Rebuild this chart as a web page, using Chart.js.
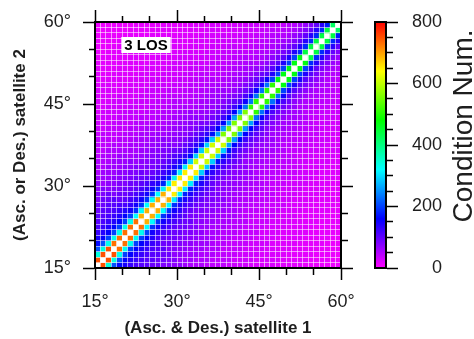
<!DOCTYPE html>
<html lang="en">
<head>
<meta charset="UTF-8" />
<title>Condition number - 3 LOS</title>
<script src="https://cdn.jsdelivr.net/npm/chart.js"></script>
<style>
  body { margin: 0; background: #fff; }
  #wrap { position: relative; width: 474px; height: 339px; }
  canvas { position: absolute; top: 0; }
  #gridChart { left: 0; }
  #barChart { left: 360px; }
</style>
</head>
<body>
<div id="wrap">
  <canvas id="gridChart" width="360" height="339"></canvas>
  <canvas id="barChart" width="114" height="339"></canvas>
</div>
<script>
// heading angle range of both satellites (degrees), 1 degree cells
const angleMin = 15;
const angleMax = 60;
const degreeLabels = [15, 30, 45, 60];
const degreeMinor = [15, 20, 25, 30, 35, 40, 45, 50, 55, 60];

// condition number colour scale
const condLabels = [0, 200, 400, 600, 800];
const condMax = 800;

// condition number off the diagonal: one row per angle difference |x - y|,
// one column per mean angle (x + y) / 2. The diagonal itself is singular (white).
const offsets = [1, 2, 3, 4, 5, 6, 7, 8, 10, 12, 14, 17, 20, 24, 28, 33, 38, 42];
const midAngles = [15, 20, 25, 30, 35, 40, 45, 50, 55, 60];
const condTable = [
  [750, 730, 690, 650, 610, 560, 510, 470, 440, 420],
  [340, 330, 320, 310, 290, 260, 230, 200, 185, 175],
  [210, 200, 190, 180, 170, 160, 150, 140, 135, 130],
  [165, 158, 148, 140, 130, 120, 112, 104, 98, 92],
  [145, 138, 128, 120, 110, 100, 92, 85, 79, 74],
  [132, 125, 114, 106, 96, 86, 78, 70, 64, 59],
  [122, 114, 103, 94, 84, 75, 67, 60, 54, 50],
  [115, 105, 92, 82, 72, 64, 57, 50, 46, 42],
  [100, 92, 80, 72, 64, 56, 49, 43, 38, 34],
  [88, 80, 70, 62, 55, 48, 42, 37, 33, 29],
  [76, 70, 61, 54, 48, 42, 37, 32, 28, 25],
  [62, 57, 50, 45, 40, 35, 31, 27, 24, 21],
  [50, 46, 41, 37, 33, 29, 26, 23, 20, 18],
  [40, 37, 33, 30, 26, 23, 21, 18, 16, 14],
  [32, 30, 27, 24, 21, 19, 17, 15, 13, 12],
  [25, 23, 21, 19, 17, 15, 13, 12, 10, 9],
  [19, 18, 16, 14, 13, 12, 10, 9, 8, 7],
  [14, 13, 12, 11, 10, 9, 8, 7, 6, 6]
];

// GMT style rainbow palette
const cptStops = [0, 160, 320, 480, 640, 800];
const cptColors = [[255, 0, 255], [0, 0, 255], [0, 255, 255], [0, 255, 0], [255, 255, 0], [255, 0, 0]];

function rgb(c) { return 'rgb(' + c.map(Math.round).join(',') + ')'; }

function colorFor(v) {
  if (v === null || v > condMax) return '#ffffff';
  for (let k = 1; k < cptStops.length; k++) {
    if (v <= cptStops[k]) {
      const t = (v - cptStops[k - 1]) / (cptStops[k] - cptStops[k - 1]);
      const a = cptColors[k - 1], b = cptColors[k];
      return rgb(a.map((ch, n) => ch + (b[n] - ch) * t));
    }
  }
  return rgb(cptColors[cptColors.length - 1]);
}

function condAt(x, y) {
  const d = Math.abs(x - y);
  if (d === 0) return null;
  let row = 0;
  offsets.forEach((o, k) => { if (o <= d) row = k; });
  const mid = (x + y) / 2;
  let col = 0;
  midAngles.forEach((m, k) => { if (Math.abs(m - mid) < Math.abs(midAngles[col] - mid)) col = k; });
  return condTable[row][col];
}

const cells = [];
for (let i = angleMin; i < angleMax; i++) {
  for (let j = angleMin; j < angleMax; j++) {
    cells.push({ x: i + 0.5, y: j + 0.5, v: condAt(i, j) });
  }
}

const gridTicks = [];
for (let a = angleMin; a <= angleMax; a++) gridTicks.push({ value: a });
const condMinor = [];
for (let c = 0; c <= condMax; c += 50) condMinor.push({ value: c });

Chart.defaults.font.family = '"Liberation Sans", Arial, Helvetica, sans-serif';
Chart.defaults.color = '#1e1e1e';

const isMajor = v => degreeLabels.includes(v);
const isMinor = v => degreeMinor.includes(v);
const tickLen = 12;

// fixed box size, no extra room for overhanging labels
function fixSize(prop, size) {
  return s => {
    s[prop] = size;
    s.paddingLeft = s.paddingRight = s.paddingTop = s.paddingBottom = 0;
  };
}

// shared axis pieces: ticks every 5 deg, long ones at 15/30/45/60
function axis(position, opts) {
  const inward = position === 'bottom' || position === 'right';
  return Object.assign({
    type: 'linear', position, min: angleMin, max: angleMax,
    afterBuildTicks: s => { s.ticks = gridTicks.map(t => ({ value: t.value })); },
    ticks: { display: false, autoSkip: false, maxRotation: 0 },
    grid: {
      drawOnChartArea: false, z: 1, tickLength: tickLen, tickWidth: 1.5,
      tickColor: c => isMinor(c.tick.value) ? '#000' : 'rgba(0,0,0,0)',
      tickBorderDash: c => isMajor(c.tick.value) ? [] : (inward ? [6, 20] : [6, 6]),
      tickBorderDashOffset: c => isMajor(c.tick.value) || inward ? 0 : 6
    },
    border: { color: '#000', width: 2, z: 2 }
  }, opts);
}

const labelBox = {
  id: 'labelBox',
  afterDraw(chart) {
    const { ctx, chartArea } = chart;
    ctx.save();
    ctx.font = 'bold 15px "Liberation Sans", Arial, sans-serif';
    const text = '3 LOS';
    const w = ctx.measureText(text).width;
    const cx = chartArea.left + 51, cy = chartArea.top + 23;
    ctx.fillStyle = '#fff';
    ctx.fillRect(cx - w / 2 - 3, cy - 8, w + 6, 16);
    ctx.fillStyle = '#000';
    ctx.textAlign = 'center';
    ctx.textBaseline = 'middle';
    ctx.fillText(text, cx, cy + 1);
    ctx.restore();
  }
};

new Chart(document.getElementById('gridChart'), {
  type: 'scatter',
  data: {
    datasets: [{
      data: cells,
      clip: 0,
      pointStyle: 'rect',
      pointBorderWidth: 0,
      pointRadius: c => {
        const xs = c.chart.scales.x;
        return (xs.getPixelForValue(angleMin + 1) - xs.getPixelForValue(angleMin) + 0.6) / Math.SQRT2;
      },
      pointBackgroundColor: c => colorFor(c.raw ? c.raw.v : null)
    }]
  },
  options: {
    responsive: false,
    animation: false,
    events: [],
    layout: { padding: 0, autoPadding: false },
    plugins: { legend: { display: false }, tooltip: { enabled: false } },
    scales: {
      x: axis('bottom', {
        afterFit: fixSize('height', 71),
        ticks: {
          display: true, autoSkip: false, maxRotation: 0, padding: 11,
          font: { size: 18 },
          callback: v => isMajor(v) ? v + '°' : ''
        },
        grid: Object.assign({}, axis('bottom').grid, {
          drawOnChartArea: true, color: 'rgba(255,255,255,0.55)', lineWidth: 1
        }),
        title: {
          display: true, text: '(Asc. & Des.) satellite 1',
          font: { size: 17, weight: 'bold' }, padding: { top: 0, bottom: 0 }
        }
      }),
      y: axis('left', {
        afterFit: fixSize('width', 95),
        ticks: {
          display: true, autoSkip: false, padding: 12,
          font: { size: 18 },
          callback: v => isMajor(v) ? v + '°' : ''
        },
        grid: Object.assign({}, axis('left').grid, {
          drawOnChartArea: true, color: 'rgba(255,255,255,0.55)', lineWidth: 1
        }),
        title: {
          display: true, text: '(Asc. or Des.) satellite 2',
          font: { size: 17, weight: 'bold' }, padding: { top: 10, bottom: 0 }
        }
      }),
      xTop: axis('top', { afterFit: fixSize('height', 22) }),
      yRight: axis('right', { afterFit: fixSize('width', 19) })
    }
  },
  plugins: [labelBox]
});

// colour bar
const barFrame = {
  id: 'barFrame',
  afterDraw(chart) {
    const { ctx, chartArea: a } = chart;
    ctx.save();
    ctx.strokeStyle = '#000';
    ctx.lineWidth = 2;
    ctx.strokeRect(a.left, a.top, a.right - a.left, a.bottom - a.top);
    ctx.font = '28px "Liberation Sans", Arial, sans-serif';
    ctx.fillStyle = '#1e1e1e';
    ctx.translate(112, 126);
    ctx.rotate(-Math.PI / 2);
    ctx.textAlign = 'center';
    ctx.textBaseline = 'alphabetic';
    ctx.fillText('Condition Num.', 0, 0);
    ctx.restore();
  }
};

new Chart(document.getElementById('barChart'), {
  type: 'bar',
  data: {
    labels: [''],
    datasets: [{
      data: [[0, condMax]],
      barPercentage: 1,
      categoryPercentage: 1,
      borderWidth: 0,
      backgroundColor: c => {
        const ys = c.chart.scales.y;
        if (!ys || !c.chart.chartArea) return 'transparent';
        const g = c.chart.ctx.createLinearGradient(0, ys.getPixelForValue(0), 0, ys.getPixelForValue(condMax));
        cptStops.forEach((v, k) => g.addColorStop(v / condMax, rgb(cptColors[k])));
        return g;
      }
    }]
  },
  options: {
    responsive: false,
    animation: false,
    events: [],
    layout: { padding: { left: 15, top: 22, bottom: 71, right: 32 }, autoPadding: false },
    plugins: { legend: { display: false }, tooltip: { enabled: false } },
    scales: {
      x: { display: false },
      y: {
        position: 'right', min: 0, max: condMax,
        afterFit: fixSize('width', 56),
        afterBuildTicks: s => { s.ticks = condMinor.map(t => ({ value: t.value })); },
        ticks: {
          autoSkip: false, crossAlign: 'far', padding: 14,
          font: { size: 18 },
          callback: v => condLabels.includes(v) ? String(v) : ''
        },
        grid: {
          drawOnChartArea: false, tickLength: tickLen, tickWidth: 1.5, tickColor: '#000',
          tickBorderDash: c => condLabels.includes(c.tick.value) ? [] : [6, 20]
        },
        border: { color: '#000', width: 2 }
      }
    }
  },
  plugins: [barFrame]
});
</script>
</body>
</html>
